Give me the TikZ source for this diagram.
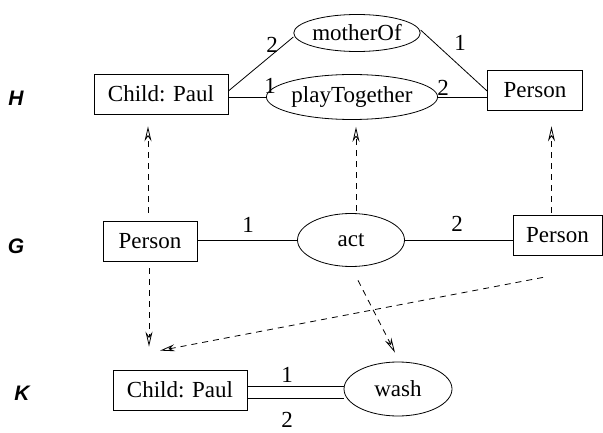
\documentclass[tikz,border=0pt]{standalone}
\usepackage{fontspec}
\setmainfont{Liberation Serif}
\newfontfamily\labelfont{Liberation Sans}
\usetikzlibrary{arrows.meta,shapes.geometric,calc}
\begin{document}
\begin{tikzpicture}[x=1pt,y=-1pt,
  every node/.style={font=\fontsize{23}{27}\selectfont},
  concept/.style={draw, rectangle, line width=0.8pt, minimum height=40pt, inner sep=0pt},
  relation/.style={draw, ellipse, line width=0.8pt, inner sep=0pt},
  arc/.style={line width=0.8pt},
  proj/.style={line width=0.8pt, dash pattern=on 6pt off 5pt,
    -{Stealth[open,length=15pt,width=7pt,inset=5pt]}},
  glabel/.style={font=\labelfont\bfseries\itshape\fontsize{21}{24}\selectfont},
  num/.style={inner sep=0pt}
]
\useasboundingbox (0,0) rectangle (603,433);

% graph H
\node[glabel] (lH) at (16,98) {H};
\node[concept, minimum width=134pt] (cH) at (161,94) {Child: Paul};
\node[relation, minimum width=108pt, minimum height=37pt] (mo) at (357,33) {motherOf};
\node[relation, minimum width=139pt, minimum height=45pt] (pt) at (352,97) {playTogether};
\node[concept, minimum width=95pt] (pH) at (535,90) {Person};
\draw[arc] ([yshift=3pt]cH.east) -- ([yshift=-4pt]mo.west);
\draw[arc] ([yshift=-3pt]cH.east) -- (pt.west);
\draw[arc] (pt.east) -- (pt.east -| pH.west);
\draw[arc] ([yshift=3pt]mo.east) -- ([yshift=-1pt]pH.west);
\node[num] (h1) at (272,45) {2};
\node[num] (h2) at (270,86) {1};
\node[num] (h3) at (460,43) {1};
\node[num] (h4) at (443,88) {2};

% graph G
\node[glabel] (lG) at (16,246) {G};
\node[concept, minimum width=94pt] (pG) at (150,241) {Person};
\node[relation, minimum width=107pt, minimum height=53pt] (act) at (351,240) {act};
\node[concept, minimum width=89pt] (pR) at (557.5,235) {Person};
\draw[arc] (pG.east |- act.west) -- (act.west);
\draw[arc] (act.east) -- (act.east -| pR.west);
\node[num] (g1) at (248,225) {1};
\node[num] (g2) at (457,224) {2};

% graph K
\node[glabel] (lK) at (22,393) {K};
\node[concept, minimum width=134pt] (cK) at (180,390) {Child: Paul};
\node[relation, minimum width=108pt, minimum height=54pt] (wash) at (398,389) {wash};
\draw[arc] ([yshift=4pt]cK.east) -- ([yshift=4pt]cK.east -| wash.west);
\draw[arc] ([yshift=-8pt]cK.east) -- ([yshift=-8pt]cK.east -| wash.west);
\node[num] (k1) at (287,375) {1};
\node[num] (k2) at (287,420) {2};

% projections
\draw[proj] ($(pG.north)+(-2,-8)$) -- ($(pG.north |- cH.south)+(-2,12)$);
\draw[proj] ($(act.north)+(5,-2)$) -- ($(act.north |- pt.south)+(5,7)$);
\draw[proj] ($(pR.north)+(-6,-2)$) -- ($(pR.north |- pH.south)+(-6,16)$);
\draw[proj] ($(pG.south)+(-1,7)$) -- ($(pG.south |- cK.north)+(-1,-23)$);
\draw[proj] ($(pR.south)+(-14.5,22)$) -- ($(cK.north)+(-20,-19)$);
\draw[proj] ($(act.south)+(7,13.5)$) -- ($(wash.north)+(-3,-9)$);
\end{tikzpicture}
\end{document}
